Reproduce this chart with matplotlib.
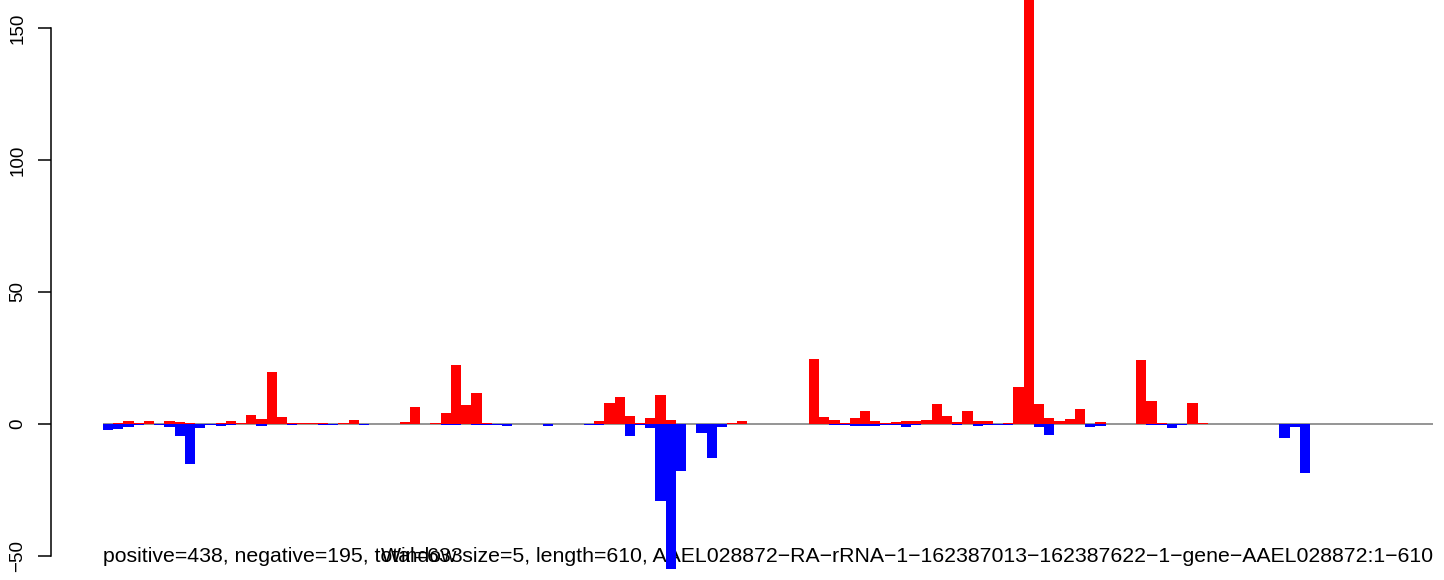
import matplotlib
matplotlib.use("Agg")
import matplotlib.pyplot as plt
import numpy as np

plt.rcParams['font.family'] = ['Liberation Sans', 'DejaVu Sans']

# per-window sums (window size 5, 122 windows)
pos_vals = [0, 0.5, 1.0, 0.5, 1.0, 0, 1.3, 0.9, 0.5, 0,
            0, 0.5, 1.3, 0.3, 3.5, 2.0, 19.8, 2.6, 0.5, 0.5,
            0.2, 0.5, 0, 0.5, 1.5, 0, 0, 0, 0, 0.9,
            6.6, 0, 0.3, 4.3, 22.5, 7.2, 11.9, 0.4, 0, 0,
            0, 0, 0, 0, 0, 0, 0, 0, 1.2, 8.0,
            10.3, 3.0, 0.4, 2.3, 11.0, 1.5, 0, 0, 0, 0,
            0, 0.3, 1.1, 0, 0, 0, 0, 0, 0, 24.6,
            2.7, 1.5, 0.4, 2.3, 4.9, 1.1, 0.4, 0.8, 1.1, 1.1,
            1.5, 7.6, 3.0, 0.8, 4.9, 1.1, 1.1, 0, 0.4, 14.0,
            169.0, 7.6, 2.3, 1.1, 1.9, 5.7, 0, 0.8, 0, 0,
            0, 24.2, 8.7, 0.4, 0, 0, 8.0, 0.2, 0, 0,
            0, 0, 0, 0, 0, 0, 0, 0, 0, 0,
            0, 0]
neg_vals = [-2.3, -1.8, -1.0, -0.3, 0, -0.2, -1.1, -4.4, -15.2, -1.4,
            -0.2, -0.7, -0.3, 0, 0, -0.6, 0, 0, -0.3, 0,
            0, -0.2, -0.3, 0, 0, -0.3, 0, 0, 0, 0,
            0, 0, 0, -0.3, -0.3, 0, -0.3, -0.3, -0.2, -0.6,
            0, 0, 0, -0.6, 0, 0, 0, -0.2, -0.2, 0,
            0, -4.4, -0.2, -1.5, -29.0, -55.0, -17.7, 0, -3.3, -12.8,
            -1.3, 0, 0, 0, 0, 0, 0, 0, 0, 0,
            0, -0.2, -0.2, -0.6, -0.6, -0.6, -0.2, -0.2, -1.0, -0.2,
            0, 0, 0, -0.2, 0, -0.6, -0.2, -0.2, -0.3, 0,
            0, -1.0, -4.0, 0, 0, 0, -1.0, -0.6, 0, 0,
            0, 0, -0.2, -0.2, -1.4, -0.2, 0, 0, 0, 0,
            0, 0, 0, 0, 0, -5.2, -1.0, -18.7, 0, 0,
            0, 0]
y_ticks = [-50, 0, 50, 100, 150]

info_left = "positive=438, negative=195, total=633"
info_right = ("Window size=5, length=610, AAEL028872\u2212RA\u2212rRNA\u22121\u2212"
              "162387013\u2212162387622\u22121\u2212gene\u2212AAEL028872:1\u2212610")

W, H = 1444, 580
fig = plt.figure(figsize=(W / 100, H / 100), dpi=100)
ax = fig.add_axes([0, 0, 1, 1])

# pixel layout of the reference
x0_px, bin_px = 103, 10.23
zero_px, unit_px = 424, 2.64
ax.set_xlim(-x0_px / bin_px, (W - x0_px) / bin_px)
ax.set_ylim(-(H - zero_px) / unit_px, zero_px / unit_px)

x = np.arange(len(pos_vals))
line_end = 130
ax.hlines(0, 0, line_end, color='#8c8c8c', lw=1.3, zorder=1.5)
ax.bar(x, pos_vals, width=1, align='edge', color='#ff0000', linewidth=0, zorder=2)
ax.bar(x, neg_vals, width=1, align='edge', color='#0000ff', linewidth=0, zorder=2)

# R-style y axis
for s in ['top', 'right', 'bottom']:
    ax.spines[s].set_visible(False)
axis_x = (51 - x0_px) / bin_px
ax.spines['left'].set_position(('data', axis_x))
ax.spines['left'].set_bounds(-50, 150)
ax.spines['left'].set_linewidth(1.1)
ax.set_yticks(y_ticks)
ax.set_yticklabels([str(t).replace('-', '\u2212') for t in y_ticks],
                   rotation=90, va='center', fontsize=13.5)
ax.tick_params(axis='y', length=9.4, width=1.1, pad=8.5)
ax.set_xticks([])

# bottom info text, sized to span the plotting width
ty = (zero_px - 557) / unit_px
fs = 10
probe = ax.text(0, ty, info_left[:28] + info_right, fontsize=fs)
fig.canvas.draw()
wpx = probe.get_window_extent(fig.canvas.get_renderer()).width
probe.remove()
fs = fs * (line_end * bin_px) / wpx
ax.text(0, ty, info_left, fontsize=fs, ha='left', va='center', zorder=1)
ax.text(line_end, ty, info_right, fontsize=fs, ha='right', va='center', zorder=1)

fig.savefig("out.png", dpi=100)
